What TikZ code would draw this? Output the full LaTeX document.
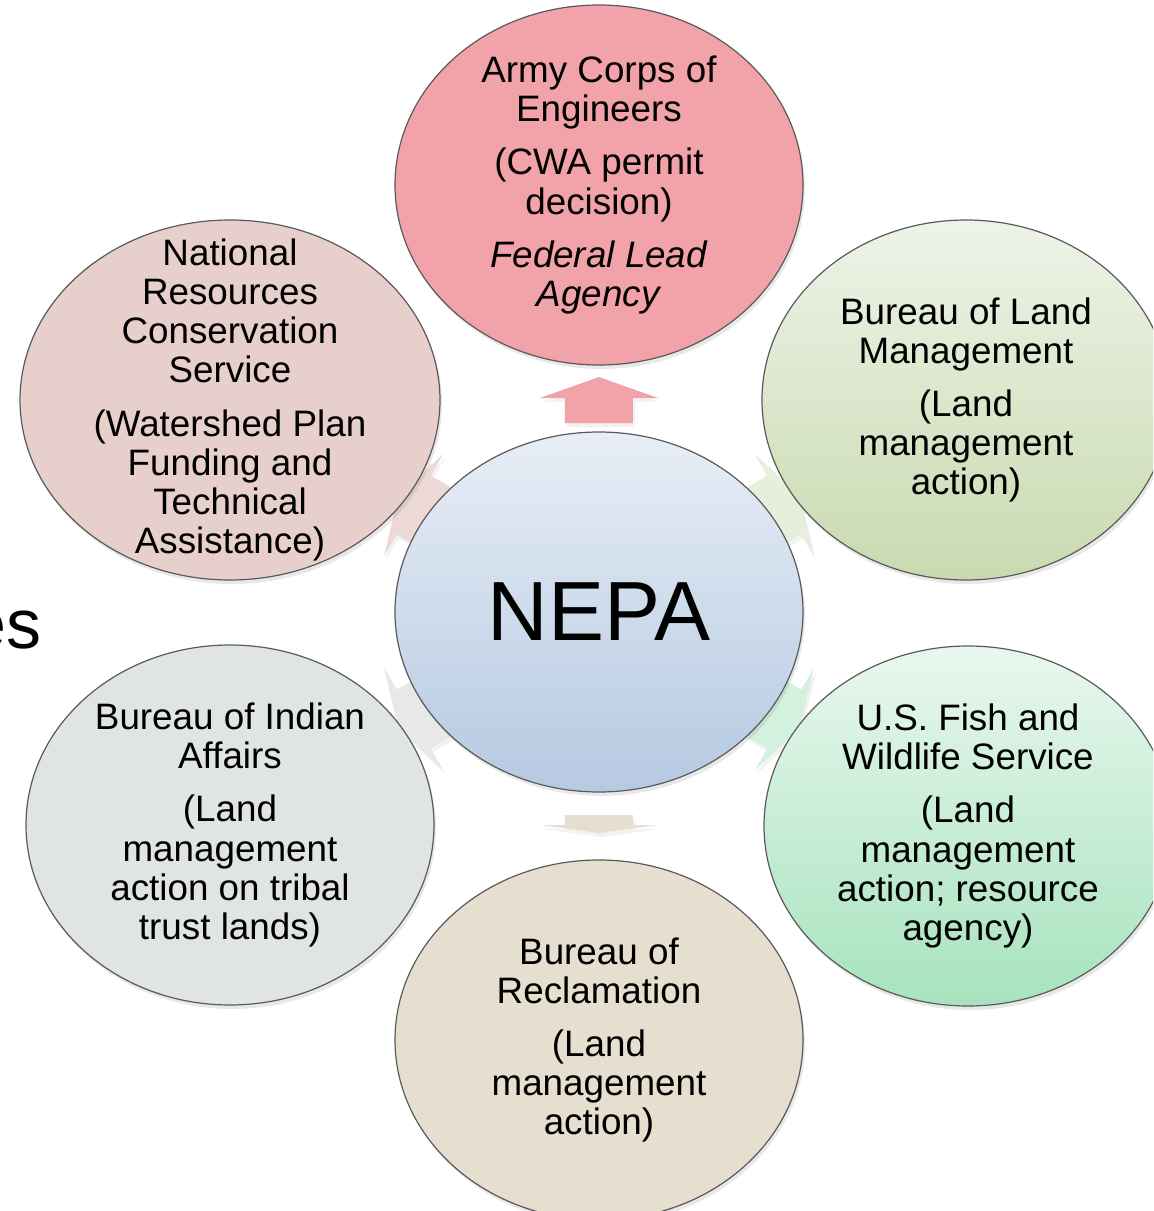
\documentclass[tikz,border=0pt]{standalone}
\usepackage{fontspec}
\setmainfont{Liberation Sans}
\usetikzlibrary{shapes.geometric,shadows}
\definecolor{rose}{HTML}{F2A3A9}
\definecolor{bluetop}{HTML}{E8EEF6}
\definecolor{bluebot}{HTML}{B5C9E1}
\definecolor{sagetop}{HTML}{EEF3E8}
\definecolor{sagebot}{HTML}{C9DAB0}
\definecolor{minttop}{HTML}{E9F7EE}
\definecolor{mintbot}{HTML}{A7E3BE}
\definecolor{sand}{HTML}{E6DFCF}
\definecolor{stone}{HTML}{E0E4E2}
\definecolor{blush}{HTML}{E7CFCB}
\definecolor{edge}{HTML}{5A5A5A}

\tikzset{
  bubble/.style={ellipse, draw=edge, line width=0.6pt, minimum width=204pt,
    minimum height=180pt, inner sep=0pt,
    drop shadow={shadow xshift=1pt, shadow yshift=-2pt, opacity=0.18}},
  words/.style={align=center, inner sep=0pt, font=\fontsize{18.4}{19.6}\selectfont},
}

\begin{document}
\begin{tikzpicture}[x=0.5pt,y=0.5pt]
\useasboundingbox (-599,-599) rectangle (554,612);
\clip (-599,-599) rectangle (554,612);

% centres
\coordinate (c0) at (0,0);
\coordinate (c1) at (0,427);
\coordinate (c2) at (367,212);
\coordinate (c3) at (369,-214);
\coordinate (c4) at (0,-428);
\coordinate (c5) at (-369,-213);
\coordinate (c6) at (-369,212);

% block arrows (behind the bubbles)
\foreach \ang/\col/\ds/\dh/\dt in {90/rose/189/214/235, 30/sagebot!45/150/214/232,
  -30/mintbot!50/150/214/232, -90/sand/203/213/221, 210/stone!80/150/214/232,
  150/blush!80/150/214/232}
{
  \fill[\col, rotate=\ang-90, drop shadow={shadow xshift=1pt, shadow yshift=-2pt, opacity=0.1}]
    (-34,\ds) -- (-34,\dh) -- (-59,\dh) -- (0,\dt) -- (59,\dh) -- (34,\dh) -- (34,\ds) -- cycle;
}

% bubbles
\node[bubble, top color=bluetop, bottom color=bluebot] (nepa) at (c0) {};
\node[bubble, fill=rose] (corps) at (c1) {};
\node[bubble, top color=sagetop, bottom color=sagebot] (blm) at (c2) {};
\node[bubble, top color=minttop, bottom color=mintbot] (fws) at (c3) {};
\node[bubble, fill=sand] (recl) at (c4) {};
\node[bubble, fill=stone] (bia) at (c5) {};
\node[bubble, fill=blush, minimum width=210pt] (nrcs) at (c6) {};

% labels
\node[inner sep=0pt, font=\fontsize{42}{46}\selectfont] (nepalbl) at (nepa.center) {NEPA};
\node[words] (corpslbl) at (corps.center) {Army Corps of\\Engineers\\[7pt](CWA permit\\decision)\\[7pt]\textit{Federal Lead}\\\textit{Agency}};
\node[words] (blmlbl) at (blm.center) {Bureau of Land\\Management\\[7pt](Land\\management\\action)};
\node[words] (fwslbl) at (fws.center) {U.S. Fish and\\Wildlife Service\\[7pt](Land\\management\\action; resource\\agency)};
\node[words] (recllbl) at (recl.center) {Bureau of\\Reclamation\\[7pt](Land\\management\\action)};
\node[words] (bialbl) at (bia.center) {Bureau of Indian\\Affairs\\[7pt](Land\\management\\action on tribal\\trust lands)};
\node[words] (nrcslbl) at (nrcs.center) {National\\Resources\\Conservation\\Service\\[7pt](Watershed Plan\\Funding and\\Technical\\Assistance)};

% slide text cut off at the left
\node[anchor=base east, inner sep=0pt, font=\fontsize{35}{40}\selectfont] (cut) at (-557,-36) {es};
\end{tikzpicture}
\end{document}
